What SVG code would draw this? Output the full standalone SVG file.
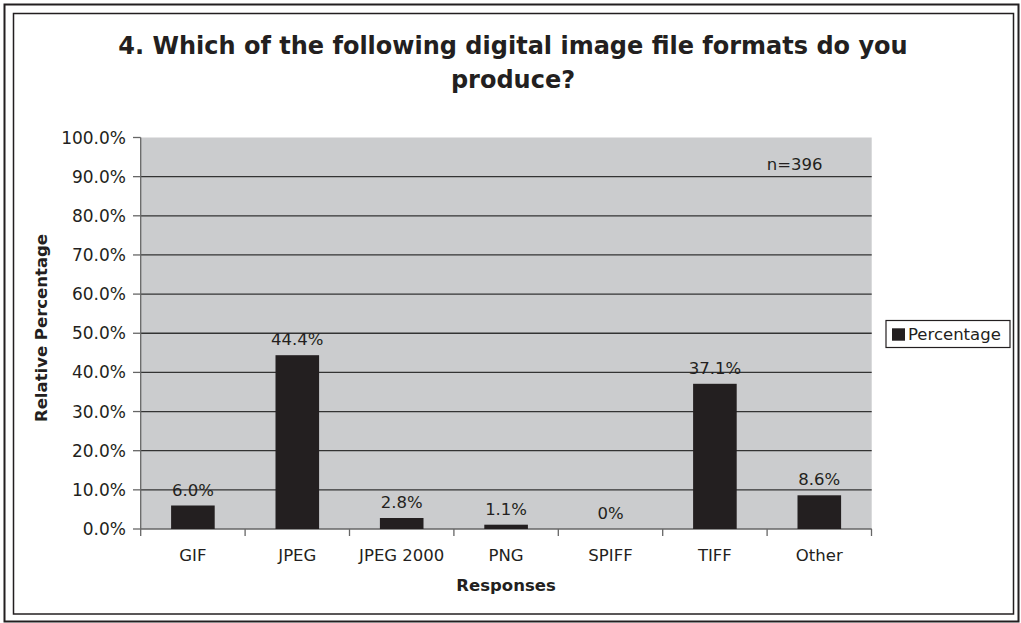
<svg xmlns="http://www.w3.org/2000/svg" width="1021" height="623" viewBox="0 0 1021 623">
<style>
text{font-family:"DejaVu Sans",Verdana,sans-serif;fill:#231F20}
.t{font-size:16.5px}
.y{font-size:17px}
.b{font-weight:bold}
.grid{stroke:#333;stroke-width:1.3}
.bar{fill:#231F20}
.tick{stroke:#666;stroke-width:1.3}
</style>
<rect x="0" y="0" width="1021" height="623" fill="#fff"/>
<rect x="4.5" y="4.5" width="1014" height="617" fill="none" stroke="#231F20" stroke-width="2"/>
<rect x="13.5" y="13.5" width="1000" height="600.5" fill="none" stroke="#231F20" stroke-width="1.5"/>
<g id="title">
<text x="513" y="54" text-anchor="middle" class="b" font-size="24">4. Which of the following digital image file formats do you</text>
<text x="513" y="88" text-anchor="middle" class="b" font-size="24">produce?</text>
</g>
<g id="plot">
<rect x="140.7" y="137.5" width="731" height="391.5" fill="#CBCCCE"/>
<g class="grid">
<line x1="140.7" y1="176.65" x2="871.7" y2="176.65"/>
<line x1="140.7" y1="215.8" x2="871.7" y2="215.8"/>
<line x1="140.7" y1="254.95" x2="871.7" y2="254.95"/>
<line x1="140.7" y1="294.1" x2="871.7" y2="294.1"/>
<line x1="140.7" y1="333.25" x2="871.7" y2="333.25"/>
<line x1="140.7" y1="372.4" x2="871.7" y2="372.4"/>
<line x1="140.7" y1="411.55" x2="871.7" y2="411.55"/>
<line x1="140.7" y1="450.7" x2="871.7" y2="450.7"/>
<line x1="140.7" y1="489.85" x2="871.7" y2="489.85"/>
</g>
</g>
<g id="axes" class="tick">
<line x1="140.7" y1="137.5" x2="140.7" y2="536"/>
<line x1="140.7" y1="529" x2="871.7" y2="529"/>
<line x1="133" y1="137.5" x2="140.7" y2="137.5"/>
<line x1="133" y1="176.65" x2="140.7" y2="176.65"/>
<line x1="133" y1="215.8" x2="140.7" y2="215.8"/>
<line x1="133" y1="254.95" x2="140.7" y2="254.95"/>
<line x1="133" y1="294.1" x2="140.7" y2="294.1"/>
<line x1="133" y1="333.25" x2="140.7" y2="333.25"/>
<line x1="133" y1="372.4" x2="140.7" y2="372.4"/>
<line x1="133" y1="411.55" x2="140.7" y2="411.55"/>
<line x1="133" y1="450.7" x2="140.7" y2="450.7"/>
<line x1="133" y1="489.85" x2="140.7" y2="489.85"/>
<line x1="133" y1="529" x2="140.7" y2="529"/>
<line x1="245.1" y1="529" x2="245.1" y2="536"/>
<line x1="349.5" y1="529" x2="349.5" y2="536"/>
<line x1="453.9" y1="529" x2="453.9" y2="536"/>
<line x1="558.3" y1="529" x2="558.3" y2="536"/>
<line x1="662.7" y1="529" x2="662.7" y2="536"/>
<line x1="767.1" y1="529" x2="767.1" y2="536"/>
<line x1="871.5" y1="529" x2="871.5" y2="536"/>
</g>
<g id="yticks" class="y" text-anchor="end">
<text x="126" y="143.5">100.0%</text>
<text x="126" y="182.6">90.0%</text>
<text x="126" y="221.8">80.0%</text>
<text x="126" y="260.9">70.0%</text>
<text x="126" y="300.1">60.0%</text>
<text x="126" y="339.2">50.0%</text>
<text x="126" y="378.4">40.0%</text>
<text x="126" y="417.5">30.0%</text>
<text x="126" y="456.7">20.0%</text>
<text x="126" y="495.8">10.0%</text>
<text x="126" y="535">0.0%</text>
</g>
<g id="ylabel"><text transform="translate(46.5,328) rotate(-90)" text-anchor="middle" class="b" font-size="16.5">Relative Percentage</text></g>
<g id="bars">
<rect class="bar" x="171.1" y="505.5" width="43.6" height="23.5"/>
<rect class="bar" x="275.5" y="355.2" width="43.6" height="173.8"/>
<rect class="bar" x="379.9" y="518.0" width="43.6" height="11.0"/>
<rect class="bar" x="484.3" y="524.7" width="43.6" height="4.3"/>
<rect class="bar" x="693.1" y="383.8" width="43.6" height="145.2"/>
<rect class="bar" x="797.5" y="495.3" width="43.6" height="33.7"/>
</g>
<g id="values" class="t" text-anchor="middle">
<text x="192.9" y="495.5">6.0%</text>
<text x="297.3" y="345.2">44.4%</text>
<text x="401.7" y="508">2.8%</text>
<text x="506.1" y="514.7">1.1%</text>
<text x="610.5" y="519">0%</text>
<text x="714.9" y="373.8">37.1%</text>
<text x="819.3" y="485.3">8.6%</text>
</g>
<g id="xticks" class="t" text-anchor="middle">
<text x="192.9" y="561">GIF</text>
<text x="297.3" y="561">JPEG</text>
<text x="401.7" y="561">JPEG 2000</text>
<text x="506.1" y="561">PNG</text>
<text x="610.5" y="561">SPIFF</text>
<text x="714.9" y="561">TIFF</text>
<text x="819.3" y="561">Other</text>
</g>
<g id="xlabel"><text x="506" y="591" text-anchor="middle" class="b" font-size="16.5">Responses</text></g>
<g id="note"><text x="822.5" y="170" text-anchor="end" class="t">n=396</text></g>
<g id="legend">
<rect x="886" y="320.5" width="124" height="27" fill="#fff" stroke="#231F20" stroke-width="1.2"/>
<rect x="892" y="328.3" width="13" height="12.4" fill="#231F20"/>
<text x="908" y="339.5" class="t">Percentage</text>
</g>
</svg>
